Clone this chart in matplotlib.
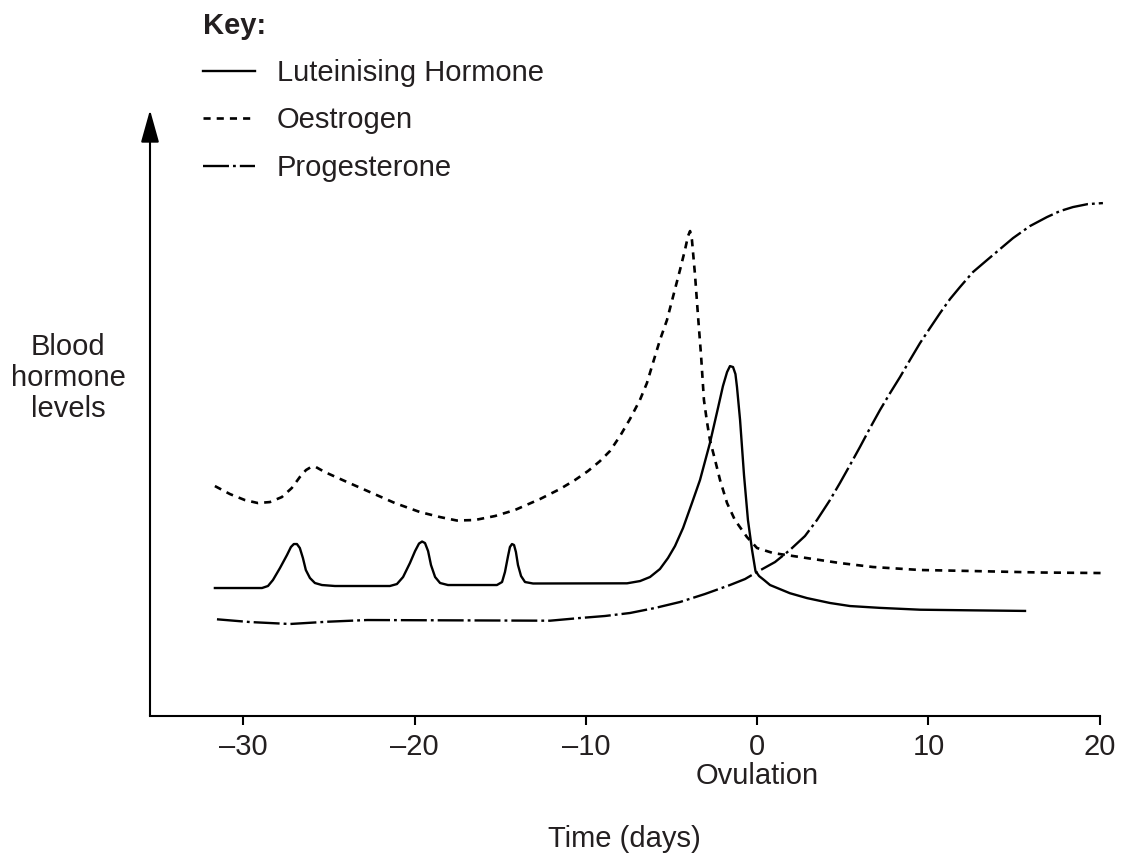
import matplotlib
matplotlib.use("Agg")
from matplotlib import pyplot as plt

# days relative to ovulation, levels in arbitrary units (no y scale on the chart)
lh_day = [-31.67, -28.92, -28.57, -28.28, -27.87, -27.46, -27.23, -27.06, -26.88, -26.71,
          -26.53, -26.36, -26.12, -25.83, -25.42, -24.66,
          -21.45, -21.04, -20.68, -20.28, -19.98, -19.75, -19.57, -19.40, -19.22, -19.05,
          -18.81, -18.52, -18.06,
          -15.20, -14.90, -14.73, -14.55, -14.44, -14.32, -14.20, -14.09, -13.97, -13.79,
          -13.56, -13.09,
          -7.60, -6.84, -6.26, -5.68, -5.21, -4.80, -4.33, -3.81, -3.34, -2.76,
          -2.29, -2.00, -1.76, -1.59, -1.41, -1.27, -1.18, -1.00, -0.77, -0.54,
          -0.30, -0.10, 0.11, 0.40, 0.75, 1.91, 2.91, 4.25, 5.42, 7.17,
          9.51, 12.43, 15.64]
lh_level = [20.95, 20.95, 21.28, 22.26, 24.22, 26.35, 27.66, 28.15, 28.15, 27.50,
            25.86, 23.90, 22.59, 21.77, 21.44, 21.28,
            21.28, 21.60, 22.75, 25.04, 27.00, 28.23, 28.56, 28.31, 27.00, 24.71,
            22.75, 21.77, 21.44,
            21.44, 21.93, 23.57, 26.19, 27.66, 28.15, 27.99, 26.84, 24.71, 22.91,
            21.93, 21.69,
            21.72, 22.09, 22.75, 24.06, 25.86, 27.82, 30.77, 34.86, 38.63, 44.68,
            50.41, 54.01, 56.30, 57.28, 57.12, 55.97, 53.85, 48.45, 39.44, 32.08,
            27.17, 23.73, 22.91, 22.26, 21.44, 20.10, 19.30, 18.50, 18.00, 17.70,
            17.40, 17.30, 17.20]

oe_day = [-31.67, -30.79, -29.92, -29.16, -28.46, -27.76, -27.18, -26.71, -26.35, -26.06,
          -25.77, -25.25, -24.08, -22.62, -21.16, -19.70, -18.53, -17.54, -16.49, -15.32,
          -14.15, -12.68, -11.52, -10.64, -9.88, -9.18, -8.60, -8.01, -7.43, -6.85,
          -6.44, -6.09, -5.68, -5.27, -4.92, -4.51, -4.22, -4.04, -3.92, -3.81,
          -3.63, -3.46, -3.28, -3.11, -2.93, -2.76, -2.46, -2.17, -1.76, -1.30,
          -0.60, -0.01, 0.92, 2.50, 4.83, 6.76, 9.51, 12.60, 16.52, 20.19]
oe_level = [37.64, 36.33, 35.35, 34.86, 35.02, 35.84, 37.32, 39.12, 40.26, 40.75,
            40.75, 39.93, 38.46, 36.66, 34.86, 33.39, 32.57, 32.00, 32.08, 32.73,
            33.72, 35.52, 37.15, 38.63, 40.10, 41.73, 43.37, 45.83, 48.61, 51.72,
            54.50, 57.77, 61.54, 64.81, 68.58, 73.00, 76.27, 78.56, 79.38, 77.91,
            72.18, 65.63, 59.08, 51.72, 48.12, 45.17, 41.90, 38.63, 34.86, 32.08,
            29.30, 27.50, 26.68, 26.02, 25.04, 24.39, 23.90, 23.73, 23.49, 23.40]

pr_day = [-31.55, -29.62, -27.29, -25.12, -22.78, -17.94, -12.10, -10.35, -8.89, -7.43,
          -5.97, -4.51, -3.05, -1.59, -0.71, -0.01, 1.04, 1.91, 2.79, 3.49,
          4.25, 4.83, 5.42, 6.00, 6.59, 7.17, 7.76, 8.34, 8.92, 9.51,
          10.09, 10.68, 11.26, 11.84, 12.60, 13.42, 14.18, 14.94, 15.93, 16.92,
          17.68, 18.44, 19.31, 20.19]
pr_level = [15.83, 15.38, 15.06, 15.43, 15.71, 15.66, 15.60, 16.04, 16.37, 16.86,
            17.68, 18.66, 19.97, 21.44, 22.42, 23.57, 25.20, 27.17, 29.46, 32.08,
            35.35, 38.13, 41.08, 44.03, 47.14, 50.08, 52.86, 55.48, 58.27, 61.05,
            63.50, 65.96, 68.25, 70.21, 72.67, 74.63, 76.43, 78.23, 80.20, 81.67,
            82.65, 83.31, 83.80, 83.96]

tick_days = [-30, -20, -10, 0, 10, 20]
tick_labels = ["\u201330", "\u201320", "\u201310", "0", "10", "20"]
series_names = ["Luteinising Hormone", "Oestrogen", "Progesterone"]

txt = "#231f20"
plt.rcParams["font.family"] = ["Liberation Sans", "DejaVu Sans"]

fig = plt.figure(figsize=(11.26, 8.57), dpi=100)
ax = fig.add_axes([150 / 1126, 141 / 857, 950 / 1126, 606 / 857])

l1, = ax.plot(lh_day, lh_level, color="black", lw=1.7, solid_joinstyle="round",
              clip_on=False)
l2, = ax.plot(oe_day, oe_level, color="black", lw=1.9, dashes=(2.7, 2.3),
              clip_on=False)
l3, = ax.plot(pr_day, pr_level, color="black", lw=1.7, dashes=(11, 1.7, 1.2, 1.7),
              clip_on=False)

ax.set_xlim(-35.46, 20.02)
ax.set_ylim(0, 99.2)

for s in ["top", "right", "left"]:
    ax.spines[s].set_visible(False)
ax.spines["bottom"].set_linewidth(1.5)
ax.set_yticks([])
ax.set_xticks(tick_days, tick_labels)
ax.tick_params(axis="x", length=6.5, width=1.5, labelsize=21, pad=6, labelcolor=txt)

# y axis with arrow head
ax.annotate("", xy=(0, 1), xytext=(0, 0), xycoords="axes fraction",
            arrowprops=dict(arrowstyle="-|>,head_length=1.0,head_width=0.28",
                            lw=1.5, color="black", shrinkA=0, shrinkB=0,
                            mutation_scale=20))

ax.text(0, -0.099, "Ovulation", transform=ax.get_xaxis_transform(),
        ha="center", va="center", fontsize=21, color=txt)
fig.text(624 / 1126, 1 - 839 / 857, "Time (days)", ha="center", va="center",
         fontsize=21, color=txt)
fig.text(68 / 1126, 1 - 378 / 857, "Blood\nhormone\nlevels", ha="center",
         va="center", multialignment="center", linespacing=1.15, fontsize=21,
         color=txt)

leg = ax.legend([l1, l2, l3], series_names, loc="upper left",
                bbox_to_anchor=(203 / 1126, 1 - 12 / 857), bbox_transform=fig.transFigure,
                frameon=False, fontsize=21, title="Key:", alignment="left",
                title_fontproperties={"weight": "bold", "size": 21},
                handlelength=1.78, handletextpad=0.75, labelspacing=0.66,
                borderpad=0, borderaxespad=0, labelcolor=txt)
leg.get_title().set_color(txt)

plt.savefig("out.png", dpi=100)
